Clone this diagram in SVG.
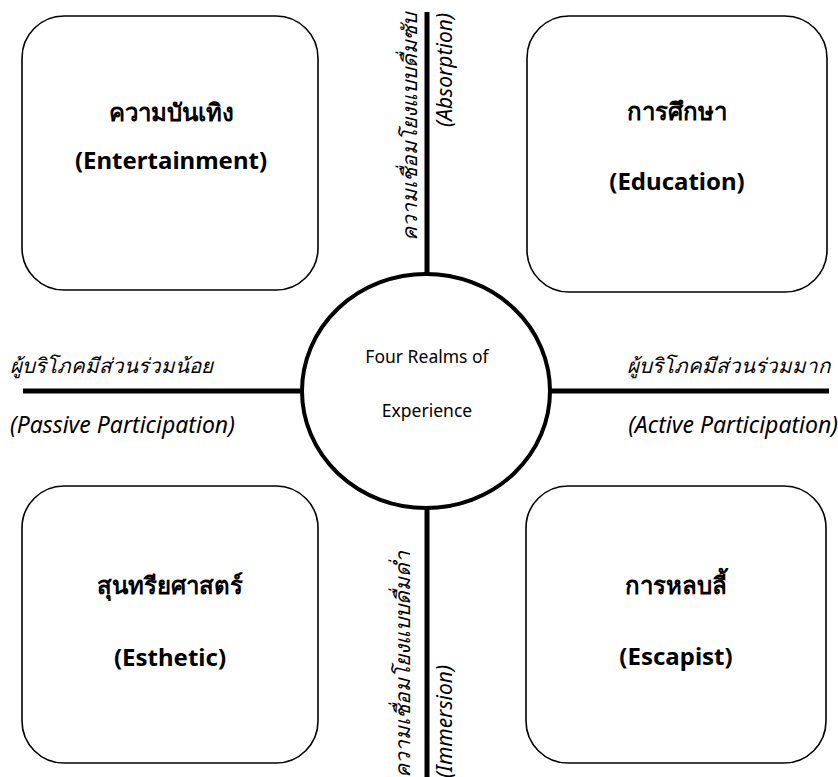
<svg xmlns="http://www.w3.org/2000/svg" width="838" height="777" viewBox="0 0 838 777">
<style>
.box{fill:#fff;stroke:#000;stroke-width:1.6}
.axis{stroke:#000;stroke-width:5;fill:none}
.hub{fill:#fff;stroke:#000;stroke-width:4}
text{font-family:"Noto Sans","Open Sans",sans-serif;fill:#000}
.bt{font-size:24px;font-weight:bold;text-anchor:middle}
.ct{font-size:17.5px;text-anchor:middle}
.lb{font-size:20.5px;font-style:italic}
.le{font-size:23px;font-style:italic}
.lv{font-size:21px;font-style:italic}
</style>
<rect width="838" height="777" fill="#fff"/>
<g id="connectors">
<line class="axis" x1="427" y1="12" x2="427" y2="777"/>
<line class="axis" x1="23" y1="391" x2="829" y2="391"/>
</g>
<g id="center">
<ellipse class="hub" cx="426" cy="391" rx="124" ry="117"/>
<text class="ct" x="427" y="363">Four Realms of</text>
<text class="ct" x="427" y="417">Experience</text>
</g>
<g id="entertainment">
<rect class="box" x="22" y="16" width="296" height="274" rx="42"/>
<text class="bt" x="171" y="121">ความบันเทิง</text>
<text class="bt" x="171" y="169">(Entertainment)</text>
</g>
<g id="education">
<rect class="box" x="527" y="16" width="300" height="276" rx="42"/>
<text class="bt" x="677" y="120">การศึกษา</text>
<text class="bt" x="677" y="190">(Education)</text>
</g>
<g id="esthetic">
<rect class="box" x="22" y="486" width="296" height="277" rx="42"/>
<text class="bt" x="170" y="594">สุนทรียศาสตร์</text>
<text class="bt" x="170" y="666">(Esthetic)</text>
</g>
<g id="escapist">
<rect class="box" x="526" y="486" width="300" height="277" rx="42"/>
<text class="bt" x="676" y="594">การหลบลี้</text>
<text class="bt" x="676" y="665">(Escapist)</text>
</g>
<g id="labels">
<text class="lb" x="10" y="373">ผู้บริโภคมีส่วนร่วมน้อย</text>
<text class="le" x="10" y="433">(Passive Participation)</text>
<text class="lb" x="830" y="373" text-anchor="end">ผู้บริโภคมีส่วนร่วมมาก</text>
<text class="le" x="838" y="433" text-anchor="end">(Active Participation)</text>
<text class="lv" transform="translate(417,13) rotate(-90)" text-anchor="end">ความเชื่อมโยงแบบดื่มซับ</text>
<text class="lv" transform="translate(452,13) rotate(-90)" text-anchor="end">(Absorption)</text>
<text class="lv" transform="translate(410,778) rotate(-90)">ความเชื่อมโยงแบบดื่มด่ำ</text>
<text class="lv" transform="translate(452,778) rotate(-90)">(Immersion)</text>
</g>
</svg>
